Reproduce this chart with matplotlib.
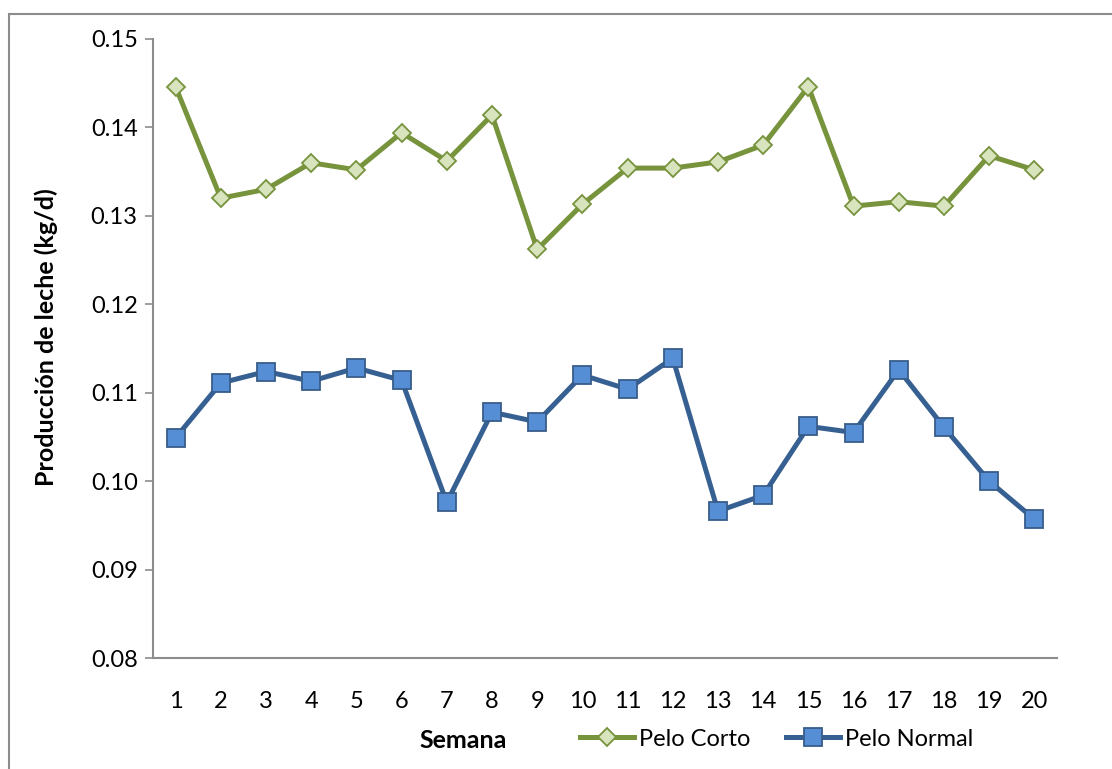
import numpy as np
import matplotlib
matplotlib.use('Agg')
from matplotlib import pyplot as plt
from matplotlib.patches import Rectangle

plt.rcParams['font.family'] = ['Lato', 'DejaVu Sans']

#   Datos: producción de leche por semana
semanas = list(range(1, 21))
pelo_corto = [0.1446, 0.1320, 0.1330, 0.1360, 0.1352, 0.1394, 0.1362, 0.1414, 0.1262, 0.1313,
              0.1354, 0.1354, 0.1361, 0.1380, 0.1446, 0.1311, 0.1316, 0.1311, 0.1368, 0.1352]
pelo_normal = [0.1049, 0.1111, 0.1124, 0.1113, 0.1128, 0.1114, 0.0976, 0.1078, 0.1067, 0.1120,
               0.1104, 0.1139, 0.0966, 0.0984, 0.1062, 0.1055, 0.1126, 0.1061, 0.1000, 0.0957]
yticks = [0.08, 0.09, 0.10, 0.11, 0.12, 0.13, 0.14, 0.15]

fig = plt.figure(figsize=(11.12, 7.69), dpi=100)
ax = fig.add_axes([0.1376, 0.1443, 0.8129, 0.8050])

#   Marco exterior del gráfico
fig.patches.append(Rectangle((9 / 1112, -0.05), 1.2, 1 - 14 / 769 + 0.05,
                             transform=fig.transFigure, fill=False,
                             edgecolor='#8c8c8c', linewidth=1.5))

ax.plot(semanas, pelo_corto, color='#77933C', linewidth=3.6, marker='D',
        markersize=9, markerfacecolor='#D7E4BD', markeredgecolor='#77933C',
        markeredgewidth=1.3, label='Pelo Corto')
ax.plot(semanas, pelo_normal, color='#376092', linewidth=3.6, marker='s',
        markersize=13, markerfacecolor='#558ED5', markeredgecolor='#385D8A',
        markeredgewidth=1.3, label='Pelo Normal')

ax.set_xlim(0.5, 20.5)
ax.set_ylim(0.08, 0.15)
ax.set_xticks(semanas)
ax.set_yticks(yticks)
ax.set_yticklabels(['%.2f' % v for v in yticks])
ax.tick_params(axis='y', labelsize=17, length=6, color='#8c8c8c', width=1.2, pad=5)
ax.tick_params(axis='x', labelsize=17, length=0, pad=24)

for s in ['top', 'right']:
    ax.spines[s].set_visible(False)
for s in ['left', 'bottom']:
    ax.spines[s].set_color('#8c8c8c')
    ax.spines[s].set_linewidth(1.5)

#   Títulos de los ejes
fig.text(46 / 1112, 1 - 337 / 769, 'Producción de leche (kg/d)', fontsize=18,
         fontweight='bold', rotation=90, ha='center', va='center')
fig.text(463 / 1112, 1 - 741 / 769, 'Semana', fontsize=18, fontweight='bold',
         ha='center', va='center')

ax.legend(loc='center left', bbox_to_anchor=(568 / 1112, 1 - 739 / 769),
          bbox_transform=fig.transFigure, ncol=2, frameon=False, fontsize=17,
          handlelength=2.3, handletextpad=0.2, columnspacing=1.5, borderpad=0)

fig.savefig('out.png', dpi=100)
